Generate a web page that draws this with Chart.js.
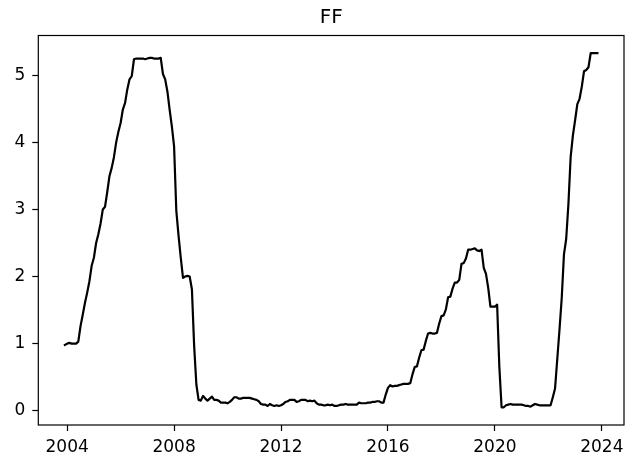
<!doctype html>
<html lang="en">
<head>
<meta charset="utf-8">
<title>FF</title>
<script src="https://cdn.jsdelivr.net/npm/chart.js@4.4.1/dist/chart.umd.min.js"></script>
<style>
html,body{margin:0;padding:0;background:#fff}
canvas{display:block}
</style>
</head>
<body>
<canvas id="ff" width="628" height="460"></canvas>
<script>
// Effective federal funds rate, monthly, Dec 2003 .. Nov 2023
const START_YEAR = 2003;
const START_MONTH = 12;

const ff2003 = [0.98];
const ff2004 = [1.00, 1.01, 1.00, 1.00, 1.00, 1.03, 1.26, 1.43, 1.61, 1.76, 1.93, 2.16];
const ff2005 = [2.28, 2.50, 2.63, 2.79, 3.00, 3.04, 3.26, 3.50, 3.62, 3.78, 4.00, 4.16];
const ff2006 = [4.29, 4.49, 4.59, 4.79, 4.94, 4.99, 5.24, 5.25, 5.25, 5.25, 5.25, 5.24];
const ff2007 = [5.25, 5.26, 5.26, 5.25, 5.25, 5.25, 5.26, 5.02, 4.94, 4.76, 4.49, 4.24];
const ff2008 = [3.94, 2.98, 2.61, 2.28, 1.98, 2.00, 2.01, 2.00, 1.81, 0.97, 0.39, 0.16];
const ff2009 = [0.15, 0.22, 0.18, 0.15, 0.18, 0.21, 0.16, 0.16, 0.15, 0.12, 0.12, 0.12];
const ff2010 = [0.11, 0.13, 0.16, 0.20, 0.20, 0.18, 0.18, 0.19, 0.19, 0.19, 0.19, 0.18];
const ff2011 = [0.17, 0.16, 0.14, 0.10, 0.09, 0.09, 0.07, 0.10, 0.08, 0.07, 0.08, 0.07];
const ff2012 = [0.08, 0.10, 0.13, 0.14, 0.16, 0.16, 0.16, 0.13, 0.14, 0.16, 0.16, 0.16];
const ff2013 = [0.14, 0.15, 0.14, 0.15, 0.11, 0.09, 0.09, 0.08, 0.08, 0.09, 0.08, 0.09];
const ff2014 = [0.07, 0.07, 0.08, 0.09, 0.09, 0.10, 0.09, 0.09, 0.09, 0.09, 0.09, 0.12];
const ff2015 = [0.11, 0.11, 0.11, 0.12, 0.12, 0.13, 0.13, 0.14, 0.14, 0.12, 0.12, 0.24];
const ff2016 = [0.34, 0.38, 0.36, 0.37, 0.37, 0.38, 0.39, 0.40, 0.40, 0.40, 0.41, 0.54];
const ff2017 = [0.65, 0.66, 0.79, 0.90, 0.91, 1.04, 1.15, 1.16, 1.15, 1.15, 1.16, 1.30];
const ff2018 = [1.41, 1.42, 1.51, 1.69, 1.70, 1.82, 1.91, 1.91, 1.95, 2.19, 2.20, 2.27];
const ff2019 = [2.40, 2.40, 2.41, 2.42, 2.39, 2.38, 2.40, 2.13, 2.04, 1.83, 1.55, 1.55];
const ff2020 = [1.55, 1.58, 0.65, 0.05, 0.05, 0.08, 0.09, 0.10, 0.09, 0.09, 0.09, 0.09];
const ff2021 = [0.09, 0.08, 0.07, 0.07, 0.06, 0.08, 0.10, 0.09, 0.08, 0.08, 0.08, 0.08];
const ff2022 = [0.08, 0.08, 0.20, 0.33, 0.77, 1.21, 1.68, 2.33, 2.56, 3.08, 3.78, 4.10];
const ff2023 = [4.33, 4.57, 4.65, 4.83, 5.06, 5.08, 5.12, 5.33, 5.33, 5.33, 5.33];

const xTicks = [2004, 2008, 2012, 2016, 2020, 2024];
const yTicks = [0, 1, 2, 3, 4, 5];

const values = [].concat(ff2003, ff2004, ff2005, ff2006, ff2007, ff2008, ff2009,
  ff2010, ff2011, ff2012, ff2013, ff2014, ff2015, ff2016, ff2017, ff2018, ff2019,
  ff2020, ff2021, ff2022, ff2023);

// month index -> decimal year
const points = values.map((v, i) => ({ x: START_YEAR + (START_MONTH - 1 + i) / 12, y: v }));

// matplotlib-style 5% data margins
const margin = (lo, hi) => [lo - (hi - lo) * 0.05, hi + (hi - lo) * 0.05];
const [xMin, xMax] = margin(points[0].x, points[points.length - 1].x);
const [yMin, yMax] = margin(Math.min(...values), Math.max(...values));

const FONT = "'DejaVu Sans', sans-serif";

// all four spines, drawn over the line like matplotlib does;
// also centre the title over the axes instead of the whole canvas
const frame = {
  id: "frame",
  afterLayout(chart) {
    const t = chart.titleBlock;
    if (!t) return;
    t.left = chart.chartArea.left;
    t.right = chart.chartArea.right;
    t.width = t.right - t.left;
  },
  afterDatasetsDraw(chart) {
    const { ctx, chartArea: a } = chart;
    ctx.save();
    ctx.strokeStyle = "#000";
    ctx.lineWidth = 1.2;
    ctx.strokeRect(a.left, a.top, a.right - a.left, a.bottom - a.top);
    ctx.restore();
  },
};

const tickGrid = { display: true, drawOnChartArea: false, drawTicks: true, tickLength: 6, tickWidth: 1.2, color: "#000" };

new Chart(document.getElementById("ff"), {
  type: "line",
  data: {
    datasets: [{
      data: points,
      borderColor: "#000",
      borderWidth: 2.2,
      pointRadius: 0,
      tension: 0,
      borderJoinStyle: "round",
      borderCapStyle: "square",
    }],
  },
  options: {
    responsive: false,
    animation: false,
    devicePixelRatio: 1,
    layout: { padding: { left: 0, right: 4, top: 0, bottom: 0 } },
    plugins: {
      legend: { display: false },
      tooltip: { enabled: false },
      title: {
        display: true,
        text: "FF",
        color: "#000",
        font: { family: FONT, size: 20, weight: "normal", lineHeight: 1.2 },
        padding: { top: 6, bottom: 5.5 },
      },
    },
    scales: {
      x: {
        type: "linear",
        min: xMin,
        max: xMax,
        grid: tickGrid,
        border: { display: false },
        ticks: { color: "#000", padding: 6, font: { family: FONT, size: 17 }, callback: (v) => String(v) },
        afterBuildTicks: (s) => { s.ticks = xTicks.map((v) => ({ value: v })); },
        afterFit: (s) => { s.height = 35; s.paddingLeft = 0; s.paddingRight = 0; },
      },
      y: {
        type: "linear",
        min: yMin,
        max: yMax,
        grid: tickGrid,
        border: { display: false },
        ticks: { color: "#000", padding: 7, font: { family: FONT, size: 17 }, callback: (v) => String(v) },
        afterBuildTicks: (s) => { s.ticks = yTicks.map((v) => ({ value: v })); },
        afterFit: (s) => { s.width = 38.3; s.paddingTop = 0; s.paddingBottom = 0; },
      },
    },
  },
  plugins: [frame],
});
</script>
</body>
</html>
